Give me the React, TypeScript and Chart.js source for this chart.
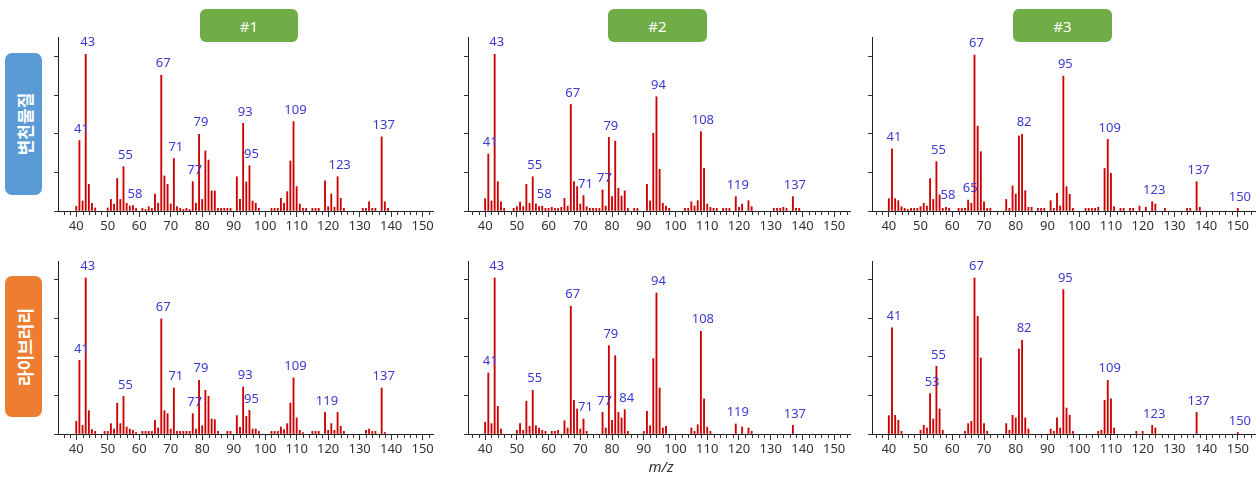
import React, { useEffect, useRef } from 'react';
import { Chart, registerables } from 'chart.js';

Chart.register(...registerables);
Chart.defaults.font.family = '"Noto Sans", "Liberation Sans", sans-serif';

type Peak = [number, number];

// ---- text ----
const columnTitles = ['#1', '#2', '#3'];
const rowTitles = ['변천물질', '라이브러리'];
const xAxisTitle = 'm/z';

// ---- spectra: [m/z, relative intensity] ----
const sample1Peaks: Peak[] = [
  [40, 3], [41, 45.6], [42, 6.5], [43, 101.5], [44, 17.3], [45, 5], [46, 2], [50, 2], [51, 7.5], [52, 4.5],
  [53, 21], [54, 7.5], [55, 28.7], [56, 5], [57, 3.2], [58, 3.5], [59, 1.7], [61, 1.7], [62, 1], [63, 2.8],
  [64, 1.7], [65, 11], [66, 5], [67, 88], [68, 22.7], [69, 17.3], [70, 4.5], [71, 34], [72, 2.8], [73, 1.7],
  [74, 1], [75, 1.7], [76, 1], [77, 19], [78, 5], [79, 49.7], [80, 7.5], [81, 38.9], [82, 33], [83, 13],
  [84, 13], [85, 1.7], [86, 1.7], [87, 1.7], [88, 1.7], [89, 1.7], [91, 22.2], [92, 7.5], [93, 56.8], [94, 18.8],
  [95, 29.4], [96, 6.5], [97, 5], [98, 1.7], [102, 1.7], [103, 1.7], [104, 1.7], [105, 8.2], [106, 5], [107, 12.5],
  [108, 32.4], [109, 57.9], [110, 15.8], [111, 4.5], [112, 1.7], [113, 1.7], [115, 1.7], [116, 1.7], [117, 1.7], [119, 19.6],
  [120, 2.8], [121, 11], [122, 2.4], [123, 22.2], [124, 8.2], [125, 1.7], [131, 1.7], [132, 1.7], [133, 6], [134, 1.7],
  [135, 1.7], [137, 48], [138, 6], [139, 1.7],
];
const sample1Labels = [41, 43, 55, 58, 67, 71, 77, 79, 93, 95, 109, 123, 137];

const sample2Peaks: Peak[] = [
  [40, 8], [41, 36.9], [42, 6.5], [43, 101.5], [44, 19], [45, 6], [46, 1.7], [49, 1.7], [50, 2.8], [51, 5.8],
  [52, 2.8], [53, 17.3], [54, 5], [55, 22.2], [56, 4.5], [57, 2.8], [58, 3.2], [59, 1.7], [60, 1.7], [61, 2.4],
  [62, 1.7], [63, 1.7], [64, 2.4], [65, 8.2], [66, 3.2], [67, 69], [68, 19], [69, 15.8], [70, 4.5], [71, 10],
  [72, 2.8], [73, 1.7], [74, 1.7], [75, 1.7], [76, 1.7], [77, 13.6], [78, 3.2], [79, 47.7], [80, 9.3], [81, 45.3],
  [82, 14.7], [83, 9.7], [84, 13], [85, 1.7], [87, 1.7], [88, 1.7], [91, 17.3], [92, 6.5], [93, 50.3], [94, 74],
  [95, 27], [96, 5], [97, 3.2], [98, 1.7], [103, 1.7], [104, 1.7], [105, 6], [106, 3.2], [107, 6.7], [108, 51.4],
  [109, 27.6], [110, 4.5], [111, 2.4], [112, 1.7], [113, 1.7], [115, 1.7], [116, 1.7], [117, 1.7], [119, 9.3], [120, 2.4],
  [121, 4.5], [123, 6.7], [124, 2.8], [131, 1.7], [132, 1.7], [133, 1.7], [134, 2.4], [135, 1.7], [137, 9.3], [138, 1.7],
  [139, 1.7],
];
const sample2Labels = [41, 43, 55, 58, 67, 71, 77, 79, 94, 108, 119, 137];

const sample3Peaks: Peak[] = [
  [40, 8], [41, 40.2], [42, 8], [43, 6.7], [44, 2.8], [45, 1.7], [46, 1], [47, 1.7], [48, 1.7], [49, 1.7],
  [50, 2.8], [51, 5], [52, 3.2], [53, 21], [54, 7.5], [55, 32], [56, 10.4], [57, 1.7], [58, 2.4], [59, 1.7],
  [62, 1.7], [63, 1.7], [64, 1.7], [65, 7.1], [66, 5], [67, 101], [68, 55], [69, 38.4], [70, 6], [71, 1.7],
  [72, 1.7], [77, 7.5], [78, 1.7], [79, 16.2], [80, 11], [81, 48.6], [82, 49.7], [83, 13.2], [84, 2.4], [85, 2.4],
  [87, 1.7], [88, 1.7], [89, 1.7], [91, 6.7], [92, 1.7], [93, 11.4], [94, 3.2], [95, 87.4], [96, 15.8], [97, 10.8],
  [98, 1.7], [102, 1.7], [103, 1.7], [104, 1.7], [105, 1.7], [106, 2.4], [108, 27.6], [109, 46.4], [110, 24.4], [111, 2.8],
  [113, 1.7], [114, 1.7], [116, 1.7], [117, 1.7], [119, 3.2], [121, 2.4], [123, 6], [124, 4.5], [127, 1.7], [134, 1.7],
  [135, 1.7], [137, 19], [138, 2.4], [150, 1.7],
];
const sample3Labels = [41, 55, 58, 65, 67, 82, 95, 109, 123, 137, 150];

const library1Peaks: Peak[] = [
  [40, 8.2], [41, 47.7], [42, 5.6], [43, 101], [44, 15.1], [45, 2.8], [46, 1.7], [49, 1.7], [50, 1.7], [51, 6.7],
  [52, 3.2], [53, 20], [54, 6.7], [55, 24.4], [56, 4.5], [57, 3.2], [58, 2.4], [59, 1], [61, 1.7], [62, 1.7],
  [63, 1.7], [64, 1.7], [65, 8.9], [66, 3.9], [67, 74.5], [68, 15.1], [69, 13.2], [70, 3.2], [71, 29.8], [72, 1.7],
  [73, 1.7], [74, 1.7], [75, 1.7], [76, 1.7], [77, 13.2], [78, 3.2], [79, 34.8], [80, 5.4], [81, 28.3], [82, 24.4],
  [83, 9.7], [84, 9.3], [85, 1.7], [88, 1.7], [89, 1.7], [91, 11.9], [92, 4.3], [93, 30.4], [94, 11.4], [95, 15.3],
  [96, 3.2], [97, 3.2], [98, 1.7], [102, 1.7], [103, 1.7], [104, 1.7], [105, 4.5], [106, 2.8], [107, 6.7], [108, 20],
  [109, 36.3], [110, 10.4], [111, 2.4], [112, 1], [115, 1.7], [116, 1.7], [117, 1.7], [119, 14], [120, 2.4], [121, 6.7],
  [122, 2.4], [123, 14], [124, 5], [125, 1.7], [132, 2.4], [133, 3.2], [134, 1.7], [135, 1.7], [137, 29.8], [138, 1],
];
const library1Labels = [41, 43, 55, 67, 71, 77, 79, 93, 95, 109, 119, 137];

const library2Peaks: Peak[] = [
  [40, 7.6], [41, 39.5], [42, 6.7], [43, 101], [44, 17.9], [45, 3.2], [50, 2.4], [51, 6.7], [52, 2.4], [53, 21.2],
  [54, 5], [55, 28.3], [56, 5.4], [57, 3.9], [58, 2.4], [59, 1.7], [61, 1.7], [62, 1.7], [63, 2.4], [65, 8.6],
  [66, 3.9], [67, 82.7], [68, 21.8], [69, 16.2], [70, 3.2], [71, 9.7], [72, 1.7], [77, 14], [78, 3.9], [79, 57.2],
  [80, 8.9], [81, 50.7], [82, 14], [83, 10.4], [84, 15.8], [85, 1.7], [90, 1.7], [91, 14.7], [92, 5.4], [93, 48.8],
  [94, 91.3], [95, 29.8], [96, 3.9], [97, 5], [105, 3.9], [106, 1.7], [107, 6], [108, 66.5], [109, 22.7], [110, 4.5],
  [111, 1.7], [119, 6.5], [121, 4.5], [123, 3.9], [124, 1.7], [137, 5.6],
];
const library2Labels = [41, 43, 55, 67, 71, 77, 79, 84, 94, 108, 119, 137];

const library3Peaks: Peak[] = [
  [40, 11.9], [41, 68.7], [42, 12.1], [43, 8.9], [44, 1.7], [50, 2.4], [51, 5.6], [52, 3.9], [53, 26.1], [54, 9.7],
  [55, 43.8], [56, 16.2], [57, 2.4], [64, 1.7], [65, 6.7], [66, 8.2], [67, 101], [68, 76.2], [69, 49.2], [70, 6.7],
  [71, 1.7], [77, 6.7], [78, 2.4], [79, 12.1], [80, 10.4], [81, 55], [82, 60.7], [83, 10.4], [84, 3.2], [91, 3.2],
  [92, 1.7], [93, 10.4], [94, 3.9], [95, 93.5], [96, 16.8], [97, 12.1], [98, 1.7], [106, 1.7], [107, 2.4], [108, 21.8],
  [109, 34.8], [110, 22.7], [111, 3.9], [118, 1.7], [120, 1.7], [123, 5.6], [124, 3.9], [137, 14], [150, 1],
];
const library3Labels = [41, 53, 55, 67, 82, 95, 109, 123, 137, 150];

// ---- layout (pixel geometry, not data) ----
const COLS = [
  { left: 58, right: 433, xMin: 34.2, xMax: 153.3 },
  { left: 468, right: 850, xMin: 34.6, xMax: 155.0 },
  { left: 872, right: 1255, xMin: 34.7, xMax: 155.4 },
];
const ROWS = [
  { top: 37, bottom: 211, yMax: 112.7 },
  { top: 261, bottom: 434, yMax: 112 },
];
const PADL = 16;
const PADR = 6;
const PADT = 26;
const PADB = 30;
const Y_AXIS_W = 12;

type PanelProps = { peaks: Peak[]; labels: number[]; col: number; row: number };

function Spectrum({ peaks, labels, col, row }: PanelProps) {
  const ref = useRef<HTMLCanvasElement>(null);
  const c = COLS[col];
  const r = ROWS[row];
  const width = c.right - c.left + PADL + PADR;
  const height = r.bottom - r.top + PADT + PADB;

  useEffect(() => {
    const canvas = ref.current;
    if (!canvas) return;
    const extras = {
      id: 'spectrumExtras',
      afterDatasetsDraw(chart: any) {
        const { ctx, scales } = chart;
        const x = scales.x;
        const y = scales.y;
        ctx.save();
        ctx.font = '13px "Noto Sans"';
        ctx.fillStyle = '#3a3ad2';
        ctx.textAlign = 'center';
        ctx.textBaseline = 'middle';
        labels.forEach((m) => {
          const p = peaks.find((pk) => pk[0] === m);
          if (!p) return;
          ctx.fillText(String(m), x.getPixelForValue(m) + 2, y.getPixelForValue(p[1]) - 11.5);
        });
        ctx.restore();
      },
      afterDraw(chart: any) {
        const { ctx, scales, chartArea } = chart;
        const x = scales.x;
        ctx.save();
        ctx.strokeStyle = '#333';
        ctx.lineWidth = 1;
        const start = Math.ceil(x.min / 2) * 2;
        for (let v = start; v <= x.max; v += 2) {
          if (v % 10 === 0) continue;
          const px = Math.round(x.getPixelForValue(v)) + 0.5;
          ctx.beginPath();
          ctx.moveTo(px, chartArea.bottom);
          ctx.lineTo(px, chartArea.bottom + 4);
          ctx.stroke();
        }
        ctx.restore();
      },
    };
    const chart = new Chart(canvas, {
      type: 'bar',
      data: {
        datasets: [
          {
            data: peaks.map(([m, v]) => ({ x: m, y: v })),
            backgroundColor: '#cc0000',
            borderWidth: 0,
            barThickness: 1.2,
            maxBarThickness: 1.2,
          } as any,
        ],
      },
      options: {
        responsive: false,
        animation: false,
        devicePixelRatio: 1,
        datasets: { bar: { barThickness: 1.2, maxBarThickness: 1.2 } },
        layout: { padding: { left: PADL - Y_AXIS_W, right: PADR, top: PADT, bottom: 0 } },
        plugins: { legend: { display: false }, tooltip: { enabled: false } },
        scales: {
          x: {
            type: 'linear',
            min: c.xMin,
            max: c.xMax,
            offset: false,
            grid: { display: true, drawOnChartArea: false, drawTicks: true, tickLength: 6, color: '#333', offset: false },
            border: { display: true, color: '#222', width: 1 },
            ticks: {
              stepSize: 10,
              autoSkip: false,
              maxRotation: 0,
              includeBounds: false,
              padding: 1,
              color: '#333',
              font: { size: 13, family: '"Noto Sans"' },
            },
            afterFit: (s: any) => {
              s.height = PADB;
            },
          },
          y: {
            type: 'linear',
            min: 0,
            max: r.yMax,
            grid: { display: true, drawOnChartArea: false, drawTicks: true, tickLength: 4, color: '#333' },
            border: { display: true, color: '#222', width: 1 },
            ticks: { display: false, stepSize: 25, includeBounds: false },
            afterFit: (s: any) => {
              s.width = Y_AXIS_W;
            },
          },
        },
      } as any,
      plugins: [extras],
    });
    return () => chart.destroy();
  }, []);

  return (
    <canvas
      ref={ref}
      width={width}
      height={height}
      style={{ position: 'absolute', left: c.left - PADL, top: r.top - PADT, width, height }}
    />
  );
}

const panels = [
  { peaks: sample1Peaks, labels: sample1Labels, col: 0, row: 0 },
  { peaks: sample2Peaks, labels: sample2Labels, col: 1, row: 0 },
  { peaks: sample3Peaks, labels: sample3Labels, col: 2, row: 0 },
  { peaks: library1Peaks, labels: library1Labels, col: 0, row: 1 },
  { peaks: library2Peaks, labels: library2Labels, col: 1, row: 1 },
  { peaks: library3Peaks, labels: library3Labels, col: 2, row: 1 },
];

const TITLE_BOXES = [
  { left: 200, top: 9, width: 98, height: 33 },
  { left: 608, top: 9, width: 99, height: 33 },
  { left: 1013, top: 9, width: 99, height: 33 },
];
const ROW_BOXES = [
  { left: 5, top: 53, width: 37, height: 142, bg: '#5b9bd5' },
  { left: 5, top: 276, width: 37, height: 141, bg: '#ed7d31' },
];

export default function App() {
  return (
    <div
      style={{
        position: 'absolute',
        left: 0,
        top: 0,
        width: 1260,
        height: 482,
        overflow: 'hidden',
        background: '#fff',
      }}
    >
      {TITLE_BOXES.map((b, i) => (
        <div
          key={'t' + i}
          style={{
            position: 'absolute',
            left: b.left,
            top: b.top,
            width: b.width,
            height: b.height,
            background: '#70ad47',
            borderRadius: 6,
            color: '#fff',
            font: '15px "Noto Sans", sans-serif',
            display: 'flex',
            alignItems: 'center',
            justifyContent: 'center',
          }}
        >
          {columnTitles[i]}
        </div>
      ))}
      {ROW_BOXES.map((b, i) => (
        <div
          key={'r' + i}
          style={{
            position: 'absolute',
            left: b.left,
            top: b.top,
            width: b.width,
            height: b.height,
            background: b.bg,
            borderRadius: 7,
          }}
        >
          <div
            style={{
              position: 'absolute',
              left: '50%',
              top: '50%',
              transform: 'translate(-50%, -50%) rotate(-90deg)',
              whiteSpace: 'nowrap',
              color: '#fff',
              font: 'bold 17px "Noto Sans CJK KR", sans-serif',
              lineHeight: 1,
            }}
          >
            {rowTitles[i]}
          </div>
        </div>
      ))}
      {panels.map((p, i) => (
        <Spectrum key={i} peaks={p.peaks} labels={p.labels} col={p.col} row={p.row} />
      ))}
      <div
        style={{
          position: 'absolute',
          left: 661,
          top: 459,
          transform: 'translateX(-50%)',
          font: 'italic 15px "Noto Sans", sans-serif',
          color: '#333',
          lineHeight: 1,
          whiteSpace: 'nowrap',
        }}
      >
        {xAxisTitle}
      </div>
    </div>
  );
}
